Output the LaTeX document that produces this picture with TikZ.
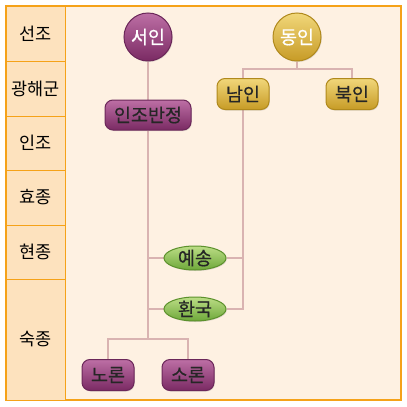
\documentclass[tikz,border=0pt]{standalone}
\usepackage{fontspec}
\setmainfont{Noto Sans CJK KR}
\newfontfamily\medfont[FakeBold=0.6]{Noto Sans CJK KR}
\usepackage{tikz}
\usetikzlibrary{positioning}
\usetikzlibrary{shapes.geometric, arrows}
\usetikzlibrary{calc, shapes, backgrounds, shadows}
\definecolor{frameorange}{HTML}{F5A219}
\definecolor{framebg}{HTML}{FEF1E2}
\definecolor{cellbg}{HTML}{FDE2BE}
\definecolor{linkpink}{HTML}{D9B3B1}
\definecolor{purpletop}{HTML}{BD6FA5}
\definecolor{purplebot}{HTML}{7A2A63}
\definecolor{purpleline}{HTML}{6B2759}
\definecolor{goldtop}{HTML}{F1D77A}
\definecolor{goldbot}{HTML}{C79B26}
\definecolor{goldline}{HTML}{B0891C}
\definecolor{greentop}{HTML}{BCDD86}
\definecolor{greenbot}{HTML}{6EA83A}
\definecolor{greenline}{HTML}{5C912C}
\tikzstyle{link} = [line width=2.6pt, draw=linkpink]

\begin{document}
\begin{tikzpicture}[
    			x = 1pt, y = -1pt,
    			every node/.style = {inner sep = 0pt, font = \fontsize{17.5}{17.5}\selectfont},
    			cell/.style = {draw = frameorange, line width = 1pt, fill = cellbg, minimum width = 59pt},
    			shade/.style = {drop shadow = {opacity = 0.25, shadow xshift = 0.8pt, shadow yshift = -1pt}, font = \fontsize{18.5}{18.5}\medfont, text = black!85},
    			seo/.style = {shade, line width = 1pt, draw = purpleline, top color = purpletop, bottom color = purplebot},
    			dong/.style = {shade, line width = 1pt, draw = goldline, top color = goldtop, bottom color = goldbot},
    			ball/.style = {circle, minimum size = 48pt, text = white},
    			box/.style = {rectangle, rounded corners = 8pt, minimum width = 52pt, minimum height = 31pt},
    			event/.style = {shade, ellipse, line width = 1pt, draw = greenline, top color = greentop, bottom color = greenbot, minimum width = 62pt, minimum height = 24pt}
  			]
  				\useasboundingbox (0,0) rectangle (407,407);
  				\begin{scope}[on background layer]
    				\draw[frameorange, line width = 1.6pt, fill = framebg] (6,6) rectangle (401,400);
  				\end{scope}

  				% Kings
  				\node[cell, minimum height = 55pt] (seonjo) at (35.5,33.5) {선조};
  				\node[cell, minimum height = 55pt] (gwanghae) at (35.5,88.5) {광해군};
  				\node[cell, minimum height = 54pt] (injo) at (35.5,143) {인조};
  				\node[cell, minimum height = 55pt] (hyojong) at (35.5,197.5) {효종};
  				\node[cell, minimum height = 54pt] (hyeonjong) at (35.5,252) {현종};
  				\node[cell, minimum height = 121pt] (sukjong) at (35.5,339.5) {숙종};

  				% Factions
  				\node[seo, ball] (seoin) at (148,37) {서인};
  				\node[dong, ball] (dongin) at (297,37) {동인};
  				\node[seo, box, minimum width = 86pt, minimum height = 30pt] (banjeong) at (148,115) {인조반정};
  				\node[dong, box] (namin) at (243,94) {남인};
  				\node[dong, box] (bugin) at (352,94) {북인};
  				\node[event] (yesong) at (195,258) {예송};
  				\node[event] (hwanguk) at (195,309) {환국};
  				\node[seo, box] (noron) at (108,375) {노론};
  				\node[seo, box] (soron) at (188,375) {소론};

  				\coordinate (dbar) at (297,69);
  				\coordinate (split) at (148,339);

  				% Links
  				\begin{scope}[on background layer]
    				\draw[link] (seoin) -- (banjeong);
    				\draw[link] (banjeong) -- (split);
    				\draw[link] (dongin) -- (dbar);
    				\draw[link] (namin.north) |- (dbar) -| (bugin.north);
    				\draw[link] (namin.south) |- (hwanguk.east);
    				\draw[link] (yesong.east) -- (yesong.east -| namin);
    				\draw[link] (yesong.west) -- (yesong.west -| banjeong);
    				\draw[link] (hwanguk.west) -- (hwanguk.west -| banjeong);
    				\draw[link] (noron.north) |- (split) -| (soron.north);
  				\end{scope}
			\end{tikzpicture}
\end{document}
